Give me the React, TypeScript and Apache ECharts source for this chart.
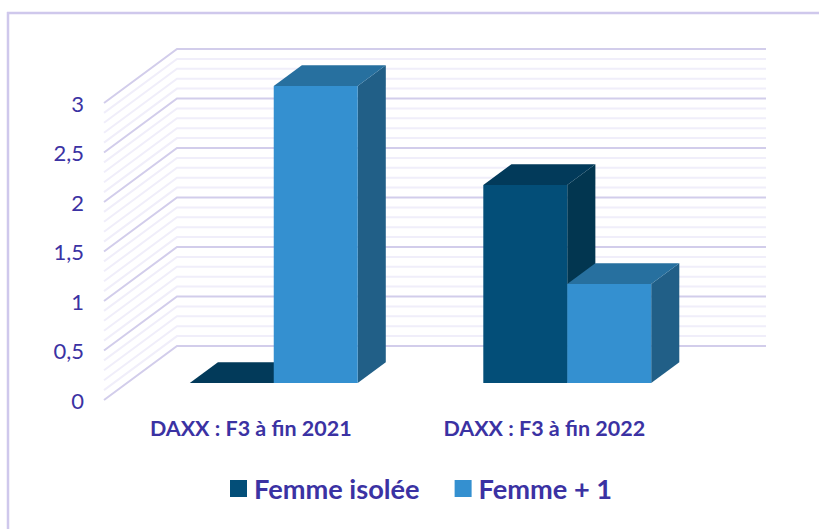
import React, { useEffect, useRef } from "react";
import * as echarts from "echarts";

const categories = ["DAXX : F3 à fin 2021", "DAXX : F3 à fin 2022"];
const femmeIsolee = [0, 2];
const femmePlusUn = [3, 1];
const majorTicks = [0, 0.5, 1, 1.5, 2, 2.5, 3];
const minorTicks = [
  0.1, 0.2, 0.3, 0.4, 0.6, 0.7, 0.8, 0.9, 1.1, 1.2, 1.3, 1.4, 1.6, 1.7, 1.8,
  1.9, 2.1, 2.2, 2.3, 2.4, 2.6, 2.7, 2.8, 2.9,
];

const TEXT = "#3b32a3";
const FONT = "Lato";
const WALL_DX = 73;
const WALL_DY = -54;
const BAR_FRONT = 0.315;
const BAR_BACK = 0.7;

function wallRender(color: string, width: number) {
  return (params: any, api: any) => {
    const cs = params.coordSys;
    const y = api.coord([0, api.value(1)])[1];
    return {
      type: "polyline",
      shape: {
        points: [
          [cs.x, y],
          [cs.x + WALL_DX, y + WALL_DY],
          [cs.x + cs.width + WALL_DX + 2, y + WALL_DY],
        ],
      },
      style: { stroke: color, lineWidth: width, fill: "none" },
    };
  };
}

function barRender(side: -1 | 0, front: string, top: string, right: string) {
  return (_params: any, api: any) => {
    const band = api.size([1, 0])[0];
    const w = band * 0.286;
    const tip = api.coord([api.value(0), api.value(1)]);
    const base = api.coord([api.value(0), 0]);
    const fx = BAR_FRONT * WALL_DX;
    const fy = BAR_FRONT * WALL_DY;
    const ddx = (BAR_BACK - BAR_FRONT) * WALL_DX;
    const ddy = (BAR_BACK - BAR_FRONT) * WALL_DY;
    const x0 = tip[0] + fx + side * w;
    const x1 = x0 + w;
    const yT = tip[1] + fy;
    const yB = base[1] + fy;
    return {
      type: "group",
      children: [
        {
          type: "polygon",
          shape: { points: [[x1, yT], [x1 + ddx, yT + ddy], [x1 + ddx, yB + ddy], [x1, yB]] },
          style: { fill: right },
        },
        {
          type: "polygon",
          shape: { points: [[x0, yT], [x0 + ddx, yT + ddy], [x1 + ddx, yT + ddy], [x1, yT]] },
          style: { fill: top },
        },
        {
          type: "polygon",
          shape: { points: [[x0, yT], [x1, yT], [x1, yB], [x0, yB]] },
          style: { fill: front },
        },
      ],
    };
  };
}

export default function App() {
  const ref = useRef<HTMLDivElement>(null);
  useEffect(() => {
    const chart = echarts.init(ref.current!, undefined, { renderer: "svg" });
    chart.setOption({
      animation: false,
      backgroundColor: "#ffffff",
      grid: { left: 104, top: 103, width: 587, height: 297 },
      xAxis: {
        type: "category",
        data: categories,
        axisLine: { show: false },
        axisTick: { show: false },
        axisLabel: { color: TEXT, fontFamily: FONT, fontWeight: "bold", fontSize: 21.5, margin: 17 },
      },
      yAxis: {
        type: "value",
        min: 0,
        max: 3,
        interval: 0.5,
        splitLine: { show: false },
        axisLine: { show: false },
        axisTick: { show: false },
        axisLabel: {
          color: TEXT,
          fontFamily: FONT,
          fontSize: 22,
          margin: 20,
          formatter: (v: number) => String(v).replace(".", ","),
        },
      },
      legend: {
        left: 230,
        top: 475,
        padding: 0,
        icon: "rect",
        itemWidth: 17,
        itemHeight: 17,
        itemGap: 35,
        data: ["Femme isolée", "Femme + 1"],
        textStyle: { color: TEXT, fontFamily: FONT, fontWeight: "bold", fontSize: 27.2, padding: [0, 0, 0, 2] },
      },
      graphic: [
        { type: "line", silent: true, shape: { x1: 7, y1: 13, x2: 819, y2: 13 }, style: { stroke: "#cfc8ec", lineWidth: 2.5 } },
        { type: "line", silent: true, shape: { x1: 8, y1: 12, x2: 8, y2: 529 }, style: { stroke: "#cfc8ec", lineWidth: 2.5 } },
      ],
      series: [
        {
          type: "custom",
          name: "minor",
          silent: true,
          clip: false,
          z: 1,
          data: minorTicks.map((v) => [0, v]),
          encode: { x: 0, y: 1 },
          renderItem: wallRender("#f0eefa", 2),
        },
        {
          type: "custom",
          name: "major",
          silent: true,
          clip: false,
          z: 2,
          data: majorTicks.map((v) => [0, v]),
          encode: { x: 0, y: 1 },
          renderItem: wallRender("#d2cdeb", 2),
        },
        {
          type: "custom",
          name: "Femme isolée",
          silent: true,
          clip: false,
          z: 3,
          itemStyle: { color: "#034e78" },
          data: femmeIsolee.map((v, i) => [i, v]),
          encode: { x: 0, y: 1 },
          renderItem: barRender(-1, "#034e78", "#023a5a", "#023650"),
        },
        {
          type: "custom",
          name: "Femme + 1",
          silent: true,
          clip: false,
          z: 4,
          itemStyle: { color: "#3490d0" },
          data: femmePlusUn.map((v, i) => [i, v]),
          encode: { x: 0, y: 1 },
          renderItem: barRender(0, "#3490d0", "#27709f", "#215f87"),
        },
      ],
    });
    return () => chart.dispose();
  }, []);
  return <div ref={ref} style={{ position: "fixed", left: 0, top: 0, width: 819, height: 529 }} />;
}
